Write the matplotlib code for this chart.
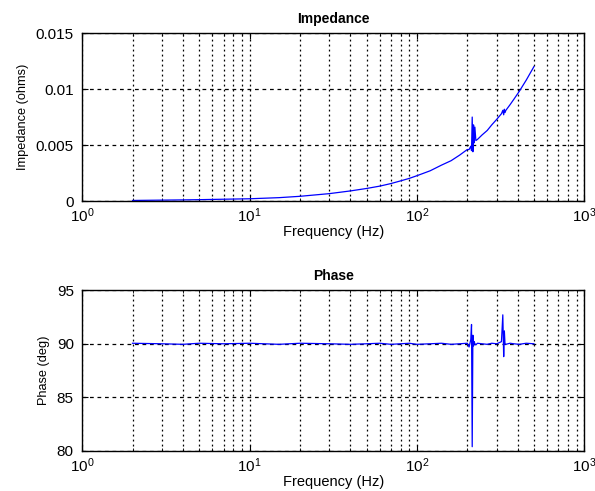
import math

import matplotlib

matplotlib.use("AGG")

import matplotlib.pyplot as plt  # isort:skip
from matplotlib.ticker import FuncFormatter, LogLocator, NullFormatter  # isort:skip

# values
freq_hz = [2, 3, 4, 5, 7, 10, 15, 20, 30, 40, 50, 60, 70, 80, 90, 100,
           120, 140, 160, 180, 200, 205, 210, 212, 214, 216, 218, 220, 222,
           225, 230, 245, 263, 280, 300, 320, 326, 330, 333, 336, 340, 360,
           380, 409, 450, 500]
impedance_ohm = [0.00005, 0.00008, 0.0001, 0.00012, 0.00016, 0.0002, 0.0003,
                 0.00042, 0.00066, 0.0009, 0.00112, 0.00133, 0.00156, 0.0018,
                 0.00202, 0.00226, 0.0027, 0.0032, 0.0036, 0.0041, 0.0046,
                 0.0046, 0.0049, 0.0045, 0.0075, 0.0044, 0.0068, 0.0052,
                 0.0066, 0.0054, 0.0055, 0.0059, 0.0063, 0.0068, 0.0073,
                 0.0078, 0.0081, 0.0077, 0.0082, 0.0079, 0.0081, 0.0086,
                 0.0091, 0.0098, 0.0108, 0.012]
phase_deg = [90.05, 90.0, 89.95, 90.05, 90.0, 90.05, 89.95, 90.05, 90.0,
             89.95, 90.0, 90.05, 89.95, 90.0, 90.05, 89.95, 90.0, 90.05,
             89.95, 90.0, 90.05, 89.7, 90.4, 91.8, 80.4, 90.8, 89.8, 90.2,
             90.0, 89.9, 90.05, 90.0, 89.95, 90.05, 90.0, 90.2, 92.7, 88.8,
             91.2, 90.0, 89.95, 90.05, 90.0, 89.95, 90.05, 90.0]

YTICKS_IMP = [0, 0.005, 0.01, 0.015]
YTICKS_PH = [80, 85, 90, 95]

plt.rcParams["font.family"] = ["Liberation Sans", "DejaVu Sans"]
plt.rcParams["mathtext.fontset"] = "custom"
plt.rcParams["mathtext.rm"] = "Liberation Sans"


def decade_label(x, pos):
    return r"$\mathregular{10^{%d}}$" % round(math.log10(x))


def style_axes(ax, yticks, title, ylabel):
    ax.set_xscale("log")
    ax.set_xlim(1, 1000)
    ax.set_ylim(yticks[0], yticks[-1])
    ax.set_yticks(yticks)
    ax.yaxis.set_major_formatter(FuncFormatter(lambda v, p: "%g" % v))
    ax.xaxis.set_major_locator(LogLocator(base=10))
    ax.xaxis.set_minor_locator(LogLocator(base=10, subs=range(2, 10)))
    ax.xaxis.set_major_formatter(FuncFormatter(decade_label))
    ax.xaxis.set_minor_formatter(NullFormatter())
    ax.tick_params(which="both", direction="in", top=True, right=True,
                   labelsize=11)
    ax.tick_params(axis="y", pad=6)
    ax.tick_params(axis="x", pad=4)
    ax.tick_params(which="major", length=4)
    ax.tick_params(which="minor", length=2)
    ax.xaxis.grid(True, which="both", color="black", lw=0.9,
                  ls=(0, (1.5, 2.5)))
    ax.yaxis.grid(True, which="major", color="black", lw=0.9,
                  ls=(0, (3, 3)))
    ax.set_title(title, fontsize=10, fontweight="bold", pad=7)
    ax.set_xlabel("Frequency (Hz)", fontsize=10.5, labelpad=0)
    ax.set_ylabel(ylabel, fontsize=9.2, labelpad=5)
    for spine in ax.spines.values():
        spine.set_linewidth(1.0)


fig = plt.figure(figsize=(5.95, 4.91), dpi=100)
ax_imp = fig.add_axes([0.138, 0.5906, 0.844, 0.342])
ax_ph = fig.add_axes([0.138, 0.0815, 0.844, 0.3275])

ax_imp.plot(freq_hz, impedance_ohm, color="#0000ff", lw=0.9)
style_axes(ax_imp, YTICKS_IMP, "Impedance", "Impedance (ohms)")

ax_ph.plot(freq_hz, phase_deg, color="#0000ff", lw=0.9)
style_axes(ax_ph, YTICKS_PH, "Phase", "Phase (deg)")

fig.savefig("out.png", dpi=100)
plt.close(fig)
